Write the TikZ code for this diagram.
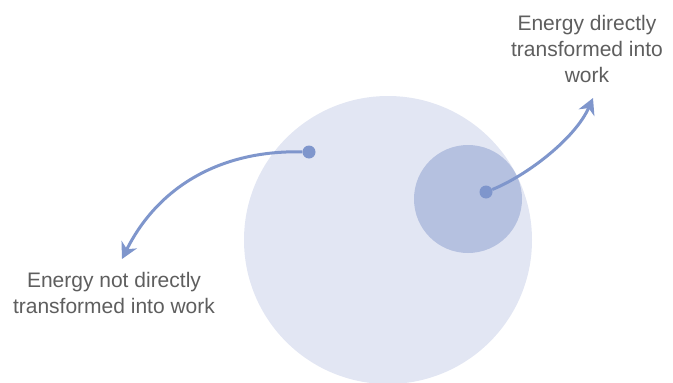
\documentclass[tikz,border=0pt]{standalone}
\usepackage{fontspec}
\setmainfont{Liberation Sans}
\usepackage{tikz}
\usetikzlibrary{arrows.meta, positioning}
\definecolor{energyfill}{HTML}{E2E6F3}
\definecolor{workfill}{HTML}{B5C1E0}
\definecolor{flowblue}{HTML}{7F96CC}
\definecolor{labelgray}{HTML}{5E5E5E}
\tikzset{
    region/.style={circle, draw=none, inner sep=0pt},
    energydot/.style={circle, fill=flowblue, inner sep=0pt, minimum size=13pt},
    caption/.style={align=center, inner sep=0pt, text=labelgray, font=\fontsize{21}{26}\selectfont},
    flow/.style={draw=flowblue, line width=3pt, -{Stealth[length=16pt, width=17pt, inset=5pt, fill=flowblue]}}
}

\begin{document}
\begin{tikzpicture}[x=1pt, y=-1pt]
    \useasboundingbox (0,0) rectangle (673,383);

    % Energy regions
    \node[region, fill=energyfill, minimum size=288pt] (total) at (388,240) {};
    \node[region, fill=workfill, minimum size=108pt] (work) at (468,199) {};

    % Start points and arrow ends
    \node[energydot] (lossdot) at (309,152) {};
    \node[energydot] (workdot) at (486,192) {};
    \coordinate (losstip) at (122,259);
    \coordinate (worktip) at (593,98);

    % Labels
    \node[caption, anchor=north] (worklabel) at (587,14.7) {Energy directly\\transformed into\\work};
    \node[caption, anchor=north] (losslabel) at (114,271.7) {Energy not directly\\transformed into work};

    \draw[flow] (lossdot) .. controls (220,150) and (158,187) .. (losstip);
    \draw[flow] (workdot) .. controls (526,176) and (575,139) .. (worktip);
\end{tikzpicture}
\end{document}
